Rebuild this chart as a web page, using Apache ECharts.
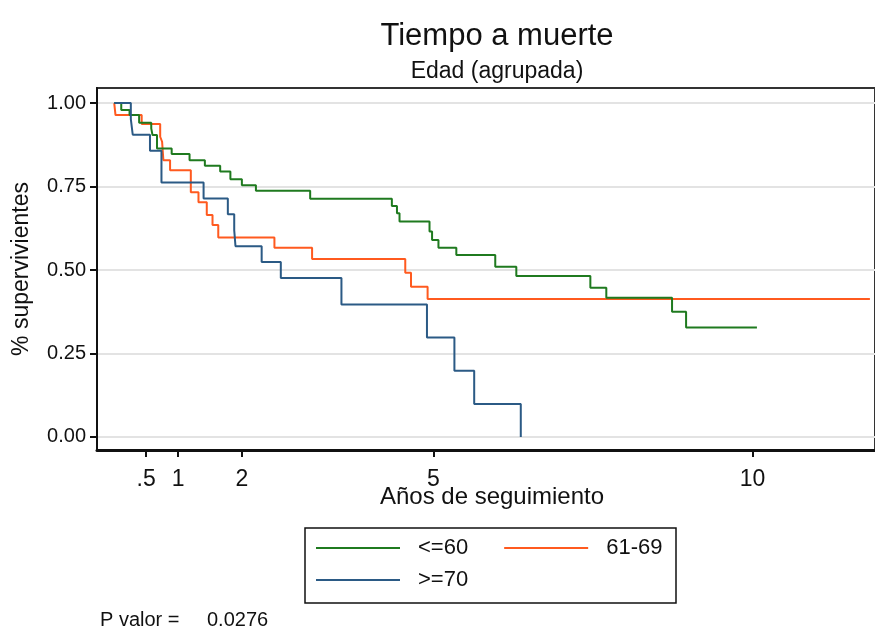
<!DOCTYPE html>
<html>
<head>
<meta charset="utf-8">
<script src="https://cdn.jsdelivr.net/npm/echarts@6/dist/echarts.min.js"></script>
<style>html,body{margin:0;padding:0;background:#fff;}#chart{width:875px;height:628px;}</style>
</head>
<body>
<div id="chart"></div>
<script>
// ---- Data ----
var groupNames = ['<=60', '61-69', '>=70'];

var timeG1 = [0, 0.11, 0.24, 0.39, 0.58, 0.60, 0.67, 0.90, 1.18, 1.42, 1.66, 1.82, 2.00, 2.22, 3.07, 4.35, 4.43, 4.47, 4.94, 4.98, 5.08, 5.36, 5.97, 6.30, 7.46, 7.71, 8.74, 8.96, 10.07];
var survG1 = [1, 0.979, 0.964, 0.941, 0.924, 0.904, 0.864, 0.847, 0.829, 0.812, 0.795, 0.772, 0.754, 0.737, 0.713, 0.692, 0.670, 0.645, 0.615, 0.590, 0.567, 0.545, 0.510, 0.482, 0.447, 0.417, 0.375, 0.328, 0.328];

var timeG2 = [0, 0.02, 0.43, 0.72, 0.75, 0.77, 0.875, 1.20, 1.32, 1.45, 1.54, 1.63, 2.51, 3.10, 4.56, 4.65, 4.91, 11.84];
var survG2 = [1, 0.964, 0.937, 0.899, 0.884, 0.829, 0.799, 0.733, 0.703, 0.665, 0.635, 0.597, 0.567, 0.533, 0.492, 0.450, 0.413, 0.413];

var timeG3 = [0, 0.26, 0.29, 0.56, 0.74, 1.40, 1.78, 1.88, 1.90, 2.31, 2.61, 3.56, 4.90, 5.33, 5.64, 6.37];
var survG3 = [1, 0.952, 0.905, 0.857, 0.762, 0.714, 0.667, 0.619, 0.571, 0.524, 0.476, 0.397, 0.298, 0.198, 0.099, 0];

var xTicks = [0.5, 1, 2, 5, 10];
var yTicks = [0, 0.25, 0.5, 0.75, 1];

var titleText = 'Tiempo a muerte';
var subtitleText = 'Edad (agrupada)';
var xName = 'Años de seguimiento';
var yName = '% supervivientes';
var pLabel = 'P valor =';
var pValue = '0.0276';

var colors = ['#1F7A1F', '#FF5A1F', '#2B5A85'];

function pairs(t, v) { return t.map(function (x, i) { return [x, v[i]]; }); }

var chart = echarts.init(document.getElementById('chart'), null, {renderer: 'canvas'});
var font = 'Liberation Sans, Arial, sans-serif';

var legendCommon = {
  icon: 'rect', itemWidth: 84, itemHeight: 2, padding: 0,
  selectedMode: false,
  textStyle: {fontFamily: font, fontSize: 22, color: '#111', padding: [0, 0, 0, 13]}
};

chart.setOption({
  animation: false,
  backgroundColor: '#ffffff',
  title: {
    text: titleText,
    subtext: subtitleText,
    left: 492,
    textAlign: 'center',
    top: 15,
    itemGap: 6,
    textStyle: {fontFamily: font, fontSize: 31, fontWeight: 'normal', color: '#111', lineHeight: 33},
    subtextStyle: {fontFamily: font, fontSize: 23, color: '#111', lineHeight: 25}
  },
  legend: [
    Object.assign({data: [groupNames[0], groupNames[1]], left: 316, top: 537, itemGap: 36}, legendCommon),
    Object.assign({data: [groupNames[2]], left: 316, top: 569}, legendCommon)
  ],
  grid: {
    left: 97, top: 88, width: 778, height: 362,
    show: true, borderColor: '#333', borderWidth: 2, backgroundColor: '#fff'
  },
  xAxis: {
    type: 'value', min: -0.27, max: 11.92,
    name: xName, nameLocation: 'middle', nameGap: 35, nameMoveOverlap: false,
    nameTextStyle: {fontFamily: font, fontSize: 24, color: '#111', padding: [0, 0, 0, 12]},
    axisLine: {show: true, onZero: false, lineStyle: {color: '#111', width: 3}},
    axisTick: {show: true, customValues: xTicks, length: 7, lineStyle: {color: '#111', width: 2}},
    axisLabel: {customValues: xTicks, margin: 18, fontFamily: font, fontSize: 23, color: '#111',
      formatter: function (v) { return v === 0.5 ? '.5' : String(v); }},
    splitLine: {show: false}
  },
  yAxis: {
    type: 'value', min: -0.039, max: 1.045,
    name: yName, nameLocation: 'middle', nameGap: 64, nameRotate: 90, nameMoveOverlap: false,
    nameTextStyle: {fontFamily: font, fontSize: 23, color: '#111'},
    axisLine: {show: true, onZero: false, lineStyle: {color: '#111', width: 2}},
    axisTick: {show: true, customValues: yTicks, length: 7, lineStyle: {color: '#111', width: 2}},
    axisLabel: {customValues: yTicks, margin: 11, fontFamily: font, fontSize: 20, color: '#111',
      formatter: function (v) { return v.toFixed(2); }},
    splitLine: {show: true, lineStyle: {color: '#e3e3e3', width: 2}}
  },
  series: [
    {name: groupNames[0], type: 'line', step: 'end', symbol: 'none', data: pairs(timeG1, survG1),
     lineStyle: {color: colors[0], width: 2}, itemStyle: {color: colors[0]}, z: 3},
    {name: groupNames[1], type: 'line', step: 'end', symbol: 'none', data: pairs(timeG2, survG2),
     lineStyle: {color: colors[1], width: 2}, itemStyle: {color: colors[1]}, z: 2},
    {name: groupNames[2], type: 'line', step: 'end', symbol: 'none', data: pairs(timeG3, survG3),
     lineStyle: {color: colors[2], width: 2}, itemStyle: {color: colors[2]}, z: 4}
  ],
  graphic: [
    {type: 'rect', shape: {x: 305, y: 528, width: 371, height: 75}, style: {fill: 'none', stroke: '#111', lineWidth: 1.5}, z: -1},
    {type: 'text', left: 100, top: 610, style: {text: pLabel, fontFamily: font, fontSize: 20, fill: '#111'}},
    {type: 'text', left: 207, top: 610, style: {text: pValue, fontFamily: font, fontSize: 20, fill: '#111'}}
  ]
});
</script>
</body>
</html>
